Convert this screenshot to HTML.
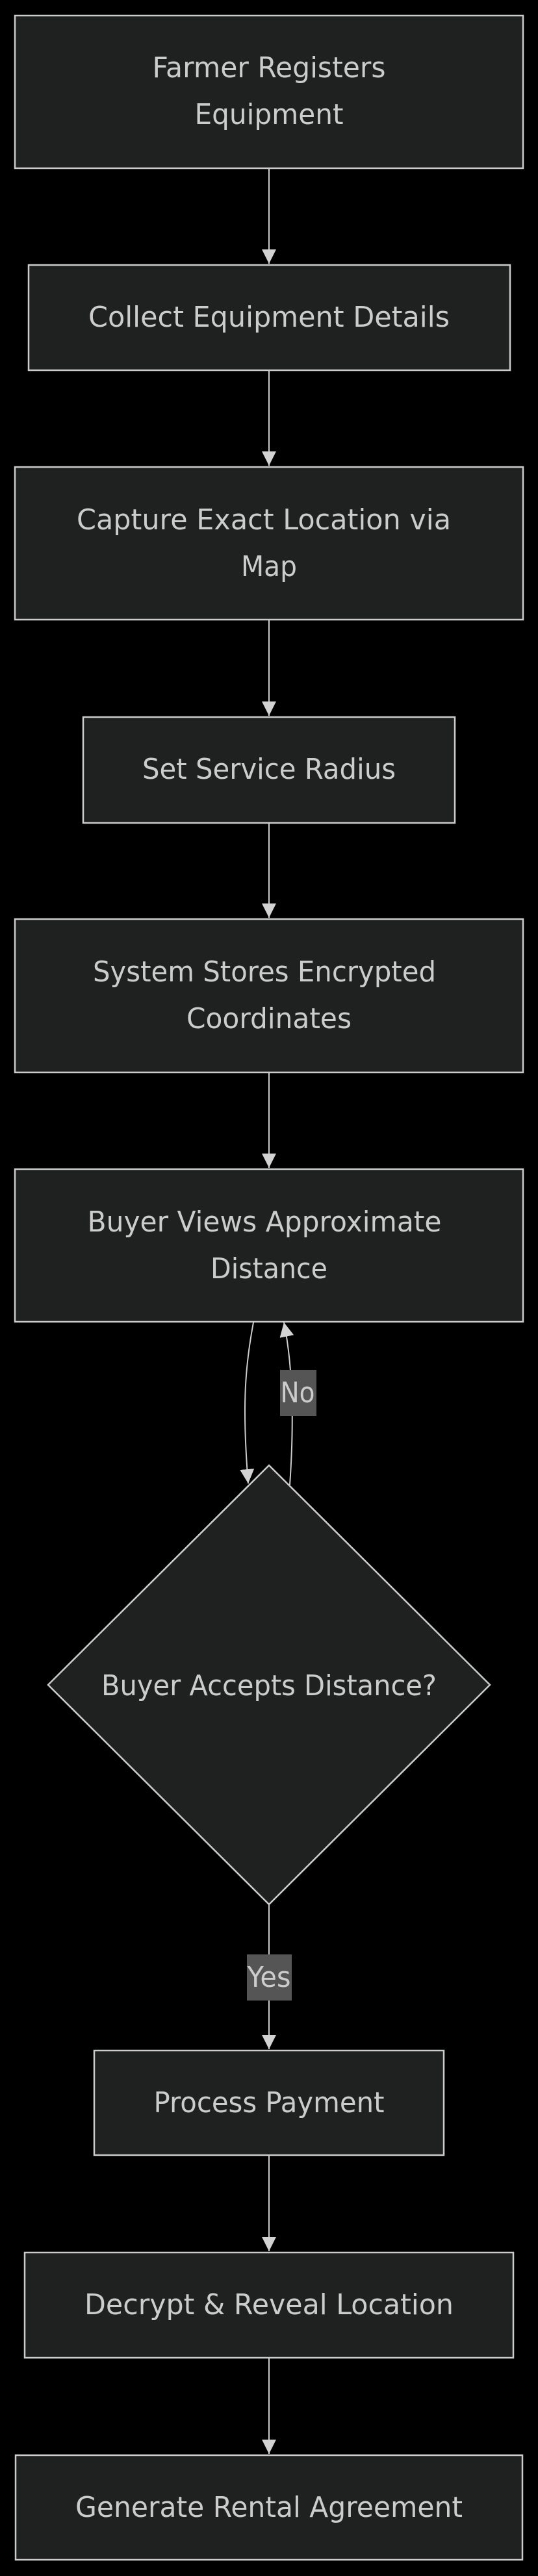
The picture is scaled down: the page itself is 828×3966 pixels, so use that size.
<!DOCTYPE html>
<html><head><meta charset="utf-8"><style>
html,body{margin:0;padding:0;background:#000;}
svg{display:block}
text{font-family:"DejaVu Sans","Liberation Sans",sans-serif;fill:#cccccc;font-size:44px;text-anchor:middle}
</style></head><body>
<svg width="828" height="3966" viewBox="0 0 828 3966" xmlns="http://www.w3.org/2000/svg">
<defs>
<marker id="ah" viewBox="0 0 10 10" refX="10" refY="5" markerWidth="22" markerHeight="24" markerUnits="userSpaceOnUse" orient="auto">
<path d="M0,0 L10,5 L0,10 z" fill="#d3d3d3"/>
</marker>
</defs>
<g fill="#1f2020" stroke="#cccccc" stroke-width="2.5">
<rect x="23" y="24" width="782" height="235"/>
<rect x="44" y="408" width="741" height="162"/>
<rect x="23" y="719" width="782" height="235"/>
<rect x="128" y="1104" width="572" height="163"/>
<rect x="23" y="1415" width="782" height="236"/>
<rect x="23" y="1800" width="782" height="235"/>
<polygon points="414,2256 754,2594 414,2932 74,2594"/>
<rect x="145" y="3157" width="538" height="161"/>
<rect x="38" y="3468" width="752" height="162"/>
<rect x="24" y="3780" width="780" height="161"/>
</g>
<g stroke="#cccccc" stroke-width="2" fill="none">
<path d="M414,259 L414,406" marker-end="url(#ah)"/>
<path d="M414,570 L414,717" marker-end="url(#ah)"/>
<path d="M414,954 L414,1102" marker-end="url(#ah)"/>
<path d="M414,1267 L414,1413" marker-end="url(#ah)"/>
<path d="M414,1651 L414,1798" marker-end="url(#ah)"/>
<path d="M390,2036 C378,2100 372,2160 382,2284" marker-end="url(#ah)"/>
<path d="M446,2286 C452,2200 452,2110 437,2036" marker-end="url(#ah)"/>
<path d="M414,2932 L414,3155" marker-end="url(#ah)"/>
<path d="M414,3318 L414,3466" marker-end="url(#ah)"/>
<path d="M414,3630 L414,3778" marker-end="url(#ah)"/>
</g>
<rect x="431" y="2109" width="56" height="71" fill="#555555"/>
<rect x="380" y="3009" width="69" height="71" fill="#555555"/>
<g>
<text x="414" y="119" textLength="359" lengthAdjust="spacingAndGlyphs">Farmer Registers</text>
<text x="414" y="191" textLength="229" lengthAdjust="spacingAndGlyphs">Equipment</text>
<text x="414" y="503" textLength="556" lengthAdjust="spacingAndGlyphs">Collect Equipment Details</text>
<text x="406" y="815" textLength="576" lengthAdjust="spacingAndGlyphs">Capture Exact Location via</text>
<text x="414" y="887" textLength="86" lengthAdjust="spacingAndGlyphs">Map</text>
<text x="414" y="1199" textLength="390" lengthAdjust="spacingAndGlyphs">Set Service Radius</text>
<text x="407" y="1511" textLength="528" lengthAdjust="spacingAndGlyphs">System Stores Encrypted</text>
<text x="414" y="1583" textLength="254" lengthAdjust="spacingAndGlyphs">Coordinates</text>
<text x="407" y="1896" textLength="545" lengthAdjust="spacingAndGlyphs">Buyer Views Approximate</text>
<text x="414" y="1968" textLength="180" lengthAdjust="spacingAndGlyphs">Distance</text>
<text x="414" y="2610" textLength="516" lengthAdjust="spacingAndGlyphs">Buyer Accepts Distance?</text>
<text x="458" y="2159" textLength="53" lengthAdjust="spacingAndGlyphs">No</text>
<text x="414" y="3059" textLength="67" lengthAdjust="spacingAndGlyphs">Yes</text>
<text x="414" y="3252" textLength="355" lengthAdjust="spacingAndGlyphs">Process Payment</text>
<text x="414" y="3563" textLength="568" lengthAdjust="spacingAndGlyphs">Decrypt &amp; Reveal Location</text>
<text x="414" y="3875" textLength="596" lengthAdjust="spacingAndGlyphs">Generate Rental Agreement</text>
</g>
</svg>
</body></html>
